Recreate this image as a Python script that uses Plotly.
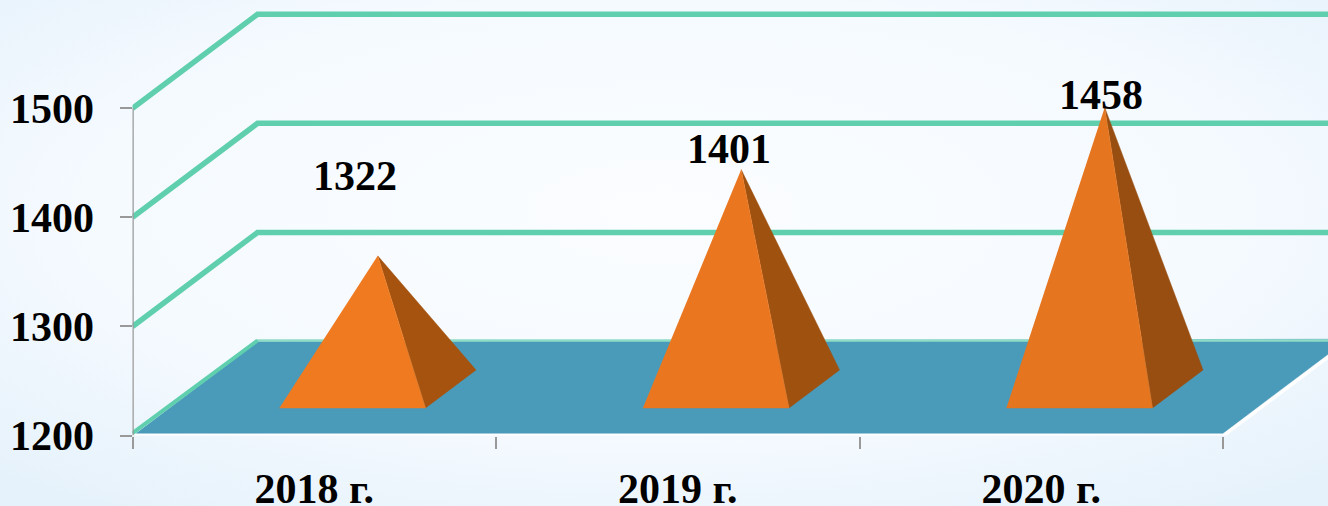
import base64
import plotly.graph_objects as go

# ---- data ----
categories = ["2018 г.", "2019 г.", "2020 г."]
values = [1322, 1401, 1458]
y_ticks = [1200, 1300, 1400, 1500]
grid_values = [1300, 1400, 1500]

# ---- styling / projection ----
W, H = 1328, 506
PX_X0, PX_Y0 = 132.5, 435.6      # pixel position of the axes origin
PX_PER_CAT, PX_PER_UNIT = 363.5, 1.0913
DEPTH_X = 125 / PX_PER_CAT       # oblique depth vector in data units
DEPTH_Y = 94 / PX_PER_UNIT
BAR_C, BAR_W = 0.504, 0.402      # bar centre and width inside a category
D_FRONT, D_BACK = 0.294, 0.698   # bar depth extent
FLOOR_LIFT = 2.4 / PX_PER_UNIT
FRONT_COLORS = ["#ef7a20", "#ea7720", "#e5751f"]
SIDE_COLORS = ["#a5530f", "#9f5110", "#984e10"]
GREEN, PALE_GREEN, FLOOR, GREY = "#5fcfae", "#8fdcc6", "#4a9aba", "#999999"
FONT = "Liberation Serif"
TEXT_SIZE = 42
# hand-placed value labels: pixel offsets from the apex of each pyramid
LABEL_SHIFT = [(-23, 80), (-12, 21), (-4, 12)]


def proj(x, v, d):
    """Oblique projection of (category x, value, depth) to the plot's data space."""
    return x + d * DEPTH_X, v + d * DEPTH_Y


svg = f'''<svg xmlns="http://www.w3.org/2000/svg" width="{W}" height="{H}" preserveAspectRatio="none">
<defs><radialGradient id="g" cx="50%" cy="42%" r="72%">
<stop offset="0" stop-color="#fbfdff"/><stop offset="0.6" stop-color="#f5faff"/><stop offset="1" stop-color="#e6f2fb"/>
</radialGradient></defs><rect width="{W}" height="{H}" fill="url(#g)"/></svg>'''
bg_uri = "data:image/svg+xml;base64," + base64.b64encode(svg.encode()).decode()

fig = go.Figure()
n = len(categories)


def line(xs, ys, color, width):
    fig.add_trace(go.Scatter(x=xs, y=ys, mode="lines", line=dict(color=color, width=width),
                             hoverinfo="skip", showlegend=False, cliponaxis=False))


def face(xs, ys, color):
    fig.add_trace(go.Scatter(x=xs, y=ys, mode="lines", fill="toself", fillcolor=color,
                             line=dict(color=color, width=0.5), hoverinfo="skip",
                             showlegend=False, cliponaxis=False))


# back-wall gridlines running from the axis, through depth, across the back
for v in grid_values:
    bx, by = proj(0, v, 1)
    ex, _ = proj(n, v, 1)
    line([0, bx, ex], [v, by, by], GREEN, 5.5)

# floor
base = y_ticks[0]
bl = proj(0, base, 1)
br = proj(n, base, 1)
line([0, n, br[0]], [base, base, br[1]], "#ffffff", 4)
face([0.01, n, br[0], bl[0]],
     [base + FLOOR_LIFT, base + FLOOR_LIFT, br[1] + FLOOR_LIFT, bl[1]], FLOOR)
line([0, bl[0], br[0]], [base + FLOOR_LIFT, bl[1] + 1, bl[1] + 1], PALE_GREEN, 2.5)
line([0, bl[0]], [base + FLOOR_LIFT, bl[1] + 1], GREEN, 4)

# pyramids
annotations = []
for i, v in enumerate(values):
    left, right = i + BAR_C - BAR_W / 2, i + BAR_C + BAR_W / 2
    fl = proj(left, base, D_FRONT)
    fr = proj(right, base, D_FRONT)
    rb = proj(right, base, D_BACK)
    apex = proj(i + BAR_C, v, (D_FRONT + D_BACK) / 2)
    face([fr[0], rb[0], apex[0]], [fr[1], rb[1], apex[1]], SIDE_COLORS[i])
    face([fl[0], fr[0], apex[0]], [fl[1], fr[1], apex[1]], FRONT_COLORS[i])
    sx, sy = LABEL_SHIFT[i]
    annotations.append(dict(x=apex[0], y=apex[1], text=str(v), showarrow=False,
                            xshift=sx, yshift=sy, xanchor="center", yanchor="middle",
                            font=dict(family=FONT, size=TEXT_SIZE, color="black", weight=700)))

fig.update_layout(
    width=W, height=H, autosize=False,
    margin=dict(l=0, r=0, t=0, b=0, autoexpand=False),
    paper_bgcolor="#f5faff", plot_bgcolor="rgba(0,0,0,0)",
    showlegend=False,
    annotations=annotations,
    # value axis line, spanning only the labelled value range
    shapes=[dict(type="line", xref="x", yref="y", x0=0, x1=0, y0=y_ticks[0], y1=y_ticks[-1],
                 line=dict(color=GREY, width=2.5), layer="above")],
    images=[dict(source=bg_uri, xref="paper", yref="paper", x=0, y=1, sizex=1, sizey=1,
                 sizing="stretch", layer="below", xanchor="left", yanchor="top")],
    xaxis=dict(
        domain=[PX_X0 / W, 1], range=[0, (W - PX_X0) / PX_PER_CAT],
        tickmode="array", tickvals=[i + 0.5 for i in range(n)], ticktext=categories,
        ticks="outside", ticklen=0, tickwidth=0, ticklabelstandoff=16,
        tickfont=dict(family=FONT, size=TEXT_SIZE, color="black", weight=700),
        minor=dict(tickmode="array", tickvals=list(range(n + 1)), ticks="outside",
                   ticklen=12, tickwidth=2, tickcolor=GREY),
        showgrid=False, zeroline=False, showline=False,
    ),
    yaxis=dict(
        domain=[(H - PX_Y0) / H, 1], range=[y_ticks[0], y_ticks[0] + PX_Y0 / PX_PER_UNIT],
        tickmode="array", tickvals=y_ticks, ticktext=[str(t) for t in y_ticks],
        ticks="outside", ticklen=12, tickwidth=2, tickcolor=GREY, ticklabelstandoff=17,
        tickfont=dict(family=FONT, size=TEXT_SIZE, color="black", weight=700),
        showgrid=False, zeroline=False, showline=False,
    ),
)

fig.write_html(
    "out.html",
    config=dict(displayModeBar=False),
    default_width=f"{W}px",
    default_height=f"{H}px",
    post_script="document.documentElement.style.overflow='hidden';"
                "document.body.style.margin='0';document.body.style.overflow='hidden';"
                "window.dispatchEvent(new Event('resize'));",
)
